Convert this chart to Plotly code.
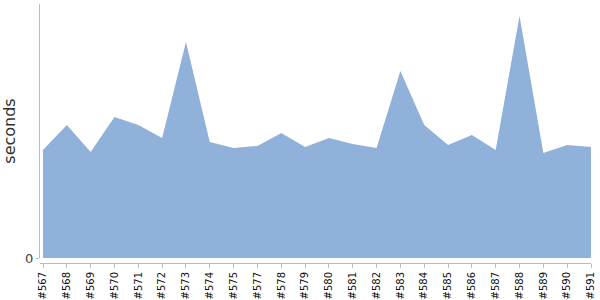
import plotly.graph_objects as go

builds = ["#567", "#568", "#569", "#570", "#571", "#572", "#573", "#574", "#575", "#577",
          "#578", "#579", "#580", "#581", "#582", "#583", "#584", "#585", "#586", "#587",
          "#588", "#589", "#590", "#591"]
seconds = [108, 133, 106, 141, 133, 120, 216, 116, 110, 112,
           125, 111, 120, 114, 110, 187, 133, 113, 123, 108,
           242, 105, 113, 111]

axis_color = "#bbbbbb"

fig = go.Figure()
fig.add_trace(go.Scatter(
    x=builds, y=seconds, mode="lines", fill="tozeroy",
    fillcolor="rgb(143,177,218)", line=dict(width=0, color="rgb(143,177,218)"),
    hoverinfo="x+y", showlegend=False,
))

fig.update_layout(
    width=600, height=300,
    margin=dict(l=40, r=9, t=4, b=37),
    paper_bgcolor="white", plot_bgcolor="white",
    font=dict(family="DejaVu Sans", color="#333"),
    xaxis=dict(
        type="category", range=[-0.126, 23],
        anchor="free", position=0, automargin=False,
        showline=True, linecolor=axis_color, linewidth=1,
        ticks="outside", ticklen=4, tickcolor=axis_color,
        tickangle=-90, tickfont=dict(size=10, color="#111"),
        showgrid=False, zeroline=False,
    ),
    yaxis=dict(
        domain=[5 / 259, 1], range=[0, 254], automargin=False,
        showline=True, linecolor=axis_color, linewidth=1,
        tickvals=[0], ticktext=["0"], ticks="outside", ticklen=3, tickcolor=axis_color,
        tickfont=dict(size=13, color="#444"),
        showgrid=False, zeroline=False,
        title=dict(text="seconds", font=dict(size=16, color="#333"), standoff=8),
    ),
)

fig.write_html("out.html")
